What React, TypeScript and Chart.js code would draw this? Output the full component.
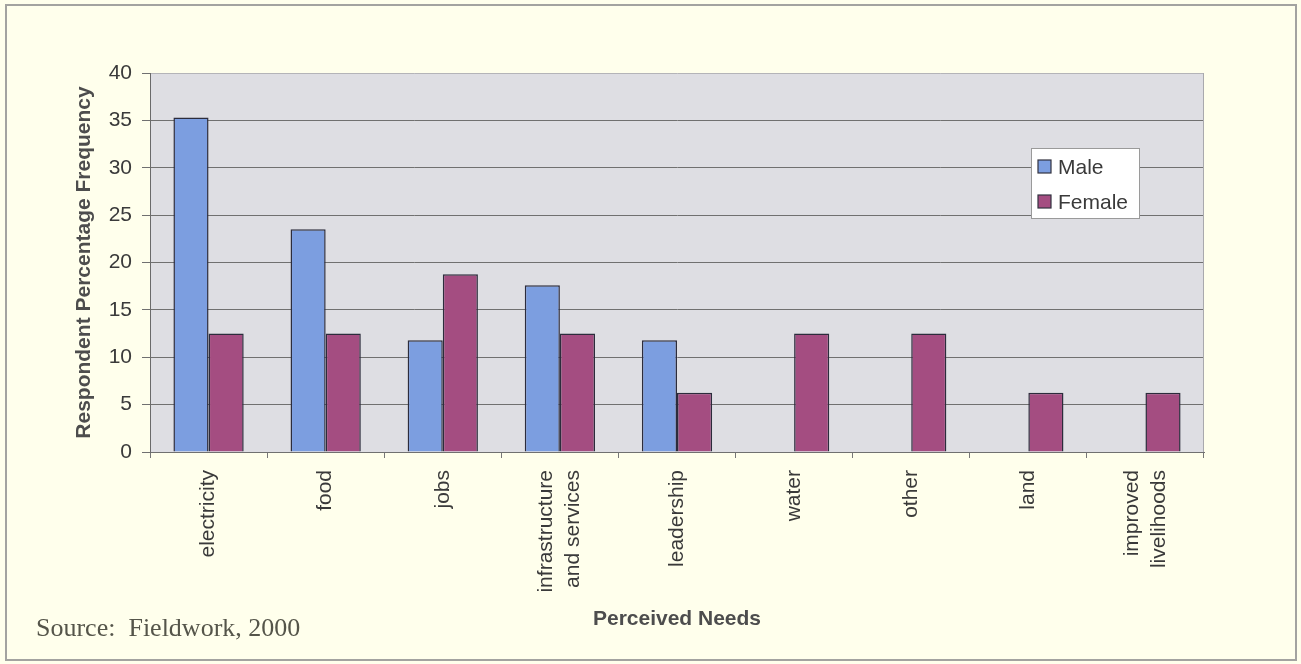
import { useEffect, useRef } from "react";
import { Chart, registerables } from "chart.js";

Chart.register(...registerables);

// Perceived needs of respondents, as a share (%) of each gender group
const needs: (string | string[])[] = [
  "electricity",
  "food",
  "jobs",
  ["infrastructure", "and services"],
  "leadership",
  "water",
  "other",
  "land",
  ["improved", "livelihoods"],
];
const maleShare = [35.3, 23.5, 11.8, 17.6, 11.8, 0, 0, 0, 0];
const femaleShare = [12.5, 12.5, 18.75, 12.5, 6.25, 12.5, 12.5, 6.25, 6.25];
const seriesNames = ["Male", "Female"];
const yAxisTicks = [0, 5, 10, 15, 20, 25, 30, 35, 40];

const SANS = '"Liberation Sans", Arial, Helvetica, sans-serif';
const SERIF = '"Liberation Serif", "Times New Roman", serif';

// grey plotting area behind the bars
const plotBackground = {
  id: "plotBackground",
  beforeDraw(chart: any) {
    const { ctx, chartArea: a } = chart;
    ctx.save();
    ctx.fillStyle = "#DEDEE3";
    ctx.fillRect(a.left, a.top, a.right - a.left, a.bottom - a.top);
    ctx.restore();
  },
};

// thin frame on the right side of the plotting area
const plotFrame = {
  id: "plotFrame",
  beforeDatasetsDraw(chart: any) {
    const { ctx, chartArea: a } = chart;
    ctx.save();
    ctx.strokeStyle = "#a9a9ad";
    ctx.lineWidth = 1;
    ctx.beginPath();
    ctx.moveTo(a.right - 0.5, a.top);
    ctx.lineTo(a.right - 0.5, a.bottom);
    ctx.stroke();
    ctx.restore();
  },
};

// vertical category labels, multi-line labels centred on their category
const verticalLabels = {
  id: "verticalLabels",
  afterDraw(chart: any) {
    const { ctx } = chart;
    const x = chart.scales.x;
    const labels = chart.data.labels as (string | string[])[];
    const lineHeight = 27;
    ctx.save();
    ctx.font = `21px ${SANS}`;
    ctx.fillStyle = "#3a3a3a";
    ctx.textAlign = "right";
    ctx.textBaseline = "middle";
    labels.forEach((label, i) => {
      const lines = Array.isArray(label) ? label : [label];
      const px = x.getPixelForTick(i);
      ctx.save();
      ctx.translate(px, x.top + 18);
      ctx.rotate(-Math.PI / 2);
      lines.forEach((line, j) => {
        ctx.fillText(line, 0, (j - (lines.length - 1) / 2) * lineHeight);
      });
      ctx.restore();
    });
    ctx.restore();
  },
};

// boxed legend sitting inside the plotting area
const boxedLegend = {
  id: "boxedLegend",
  afterDraw(chart: any) {
    const { ctx } = chart;
    const left = 1031;
    const top = 148;
    const width = 109;
    const height = 71;
    ctx.save();
    ctx.fillStyle = "#ffffff";
    ctx.fillRect(left, top, width, height);
    ctx.strokeStyle = "#9a9a9a";
    ctx.lineWidth = 1;
    ctx.strokeRect(left + 0.5, top + 0.5, width - 1, height - 1);
    ctx.font = `21px ${SANS}`;
    ctx.textBaseline = "middle";
    ctx.textAlign = "left";
    chart.data.datasets.forEach((ds: any, i: number) => {
      const cy = top + 19 + i * 35;
      ctx.fillStyle = ds.backgroundColor;
      ctx.fillRect(left + 7, cy - 7, 13, 13);
      ctx.strokeStyle = "#333340";
      ctx.lineWidth = 1.2;
      ctx.strokeRect(left + 7, cy - 7, 13, 13);
      ctx.fillStyle = "#3a3a3a";
      ctx.fillText(ds.label, left + 27, cy + 1);
    });
    ctx.restore();
  },
};

export default function App() {
  const canvasRef = useRef<HTMLCanvasElement | null>(null);

  useEffect(() => {
    const canvas = canvasRef.current;
    if (!canvas) return;
    const chart = new Chart(canvas, {
      type: "bar",
      data: {
        labels: needs,
        datasets: [
          {
            label: seriesNames[0],
            data: maleShare,
            backgroundColor: "#7C9EE0",
            borderColor: "#2c2c3c",
            borderWidth: 1.5,
            categoryPercentage: 0.6,
            barPercentage: 1,
          },
          {
            label: seriesNames[1],
            data: femaleShare,
            backgroundColor: "#A44D81",
            borderColor: "#2c2c3c",
            borderWidth: 1.5,
            categoryPercentage: 0.6,
            barPercentage: 1,
          },
        ],
      },
      options: {
        responsive: false,
        animation: false,
        layout: { padding: { left: 72, top: 73, right: 97, bottom: 32 } },
        plugins: {
          legend: { display: false },
          tooltip: { enabled: false },
        },
        scales: {
          x: {
            afterFit(scale: any) {
              scale.height = 180;
            },
            grid: {
              drawOnChartArea: false,
              drawTicks: true,
              tickLength: 6,
              color: "#777777",
              offset: true,
            },
            border: { color: "#707070", width: 1 },
            ticks: { display: false },
            title: {
              display: true,
              text: "Perceived Needs",
              color: "#4d4d4d",
              font: { family: SANS, size: 21, weight: "bold" },
              padding: 0,
            },
          },
          y: {
            min: 0,
            max: 40,
            afterFit(scale: any) {
              scale.width = 78;
            },
            afterBuildTicks(scale: any) {
              scale.ticks = yAxisTicks.map((v) => ({ value: v }));
            },
            grid: {
              color: (ctx: any) =>
                ctx.tick && ctx.tick.value === 40 ? "#b4b4b8" : "#707070",
              tickColor: "#707070",
              tickLength: 8,
              lineWidth: 1,
            },
            border: { color: "#6a6a6a", width: 1 },
            ticks: {
              color: "#3a3a3a",
              padding: 10,
              font: { family: SANS, size: 21 },
            },
            title: {
              display: true,
              text: "Respondent Percentage Frequency",
              color: "#4d4d4d",
              font: { family: SANS, size: 21, weight: "bold" },
              padding: 0,
            },
          },
        },
      },
      plugins: [plotBackground, plotFrame, verticalLabels, boxedLegend],
    });
    return () => chart.destroy();
  }, []);

  return (
    <div
      style={{
        position: "absolute",
        left: 0,
        top: 0,
        width: 1301,
        height: 664,
        background: "#FFFFEC",
        overflow: "hidden",
      }}
    >
      <div
        style={{
          position: "absolute",
          left: 5,
          top: 4,
          width: 1292,
          height: 657,
          boxSizing: "border-box",
          border: "2px solid #a3a3a0",
        }}
      />
      <canvas
        ref={canvasRef}
        width={1301}
        height={664}
        style={{ position: "absolute", left: 0, top: 0, width: 1301, height: 664 }}
      />
      <div
        style={{
          position: "absolute",
          left: 36,
          top: 613,
          fontFamily: SERIF,
          fontSize: 26,
          lineHeight: "30px",
          color: "#55554a",
          whiteSpace: "nowrap",
        }}
      >
        Source:&nbsp; Fieldwork, 2000
      </div>
    </div>
  );
}
